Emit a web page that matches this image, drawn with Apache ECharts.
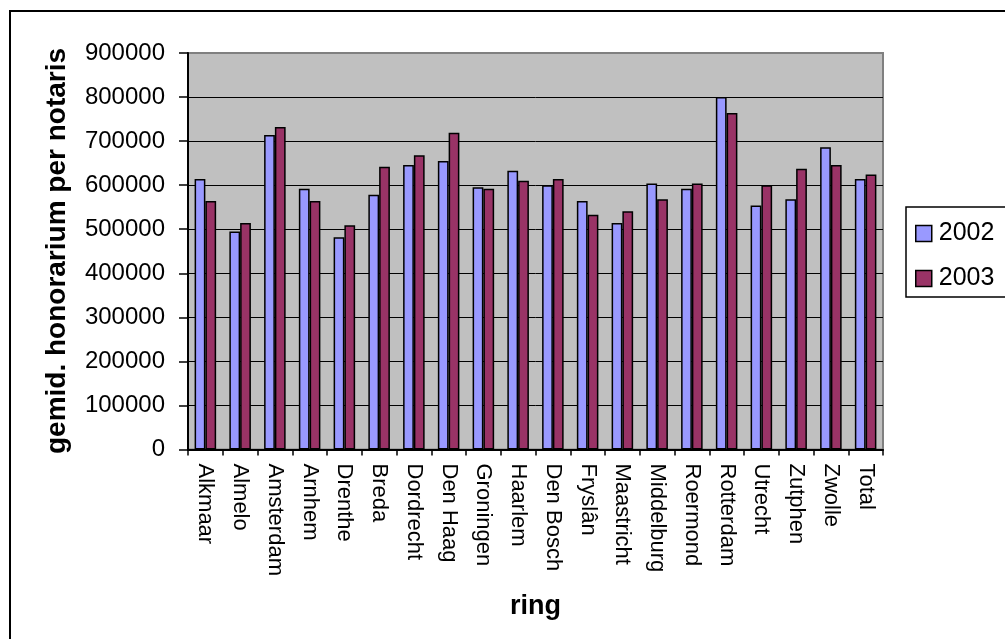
<!DOCTYPE html>
<html>
<head>
<meta charset="utf-8">
<script src="https://cdn.jsdelivr.net/npm/echarts@6/dist/echarts.min.js"></script>
<style>
  html, body { margin: 0; padding: 0; background: #fff; }
  #chart { width: 1005px; height: 639px; }
</style>
</head>
<body>
<div id="chart"></div>
<script>
// Average notary fee per notary, per district ("ring"), 2002 vs 2003
const categories = ['Alkmaar', 'Almelo', 'Amsterdam', 'Arnhem', 'Drenthe', 'Breda', 'Dordrecht',
  'Den Haag', 'Groningen', 'Haarlem', 'Den Bosch', 'Fryslân', 'Maastricht', 'Middelburg',
  'Roermond', 'Rotterdam', 'Utrecht', 'Zutphen', 'Zwolle', 'Total'];
const values2002 = [614000, 495000, 714000, 592000, 482000, 578000, 646000, 655000, 595000, 633000,
  600000, 564000, 514000, 604000, 592000, 800000, 554000, 568000, 686000, 614000];
const values2003 = [564000, 514000, 732000, 564000, 509000, 642000, 668000, 719000, 592000, 610000,
  614000, 533000, 541000, 568000, 604000, 764000, 600000, 637000, 646000, 624000];
const seriesNames = ['2002', '2003'];
const yTitle = 'gemid. honorarium per notaris';
const xTitle = 'ring';
const yMin = 0, yMax = 900000, yStep = 100000;

const FONT = "'Liberation Sans', Arial, sans-serif";
const chart = echarts.init(document.getElementById('chart'), null, { renderer: 'canvas' });

chart.setOption({
  backgroundColor: '#ffffff',
  animation: false,
  textStyle: { fontFamily: FONT, color: '#000' },
  graphic: [{
    type: 'rect',
    shape: { x: 10, y: 11, width: 1010, height: 650 },
    style: { fill: 'none', stroke: '#000', lineWidth: 2 },
    silent: true,
    z: -1
  }, {
    // vertical value-axis title
    type: 'text',
    x: 57, y: 251,
    rotation: Math.PI / 2,
    style: {
      text: yTitle,
      font: "bold 28px 'Liberation Sans', Arial, sans-serif",
      fill: '#000',
      align: 'center',
      verticalAlign: 'middle'
    },
    silent: true
  }],
  grid: {
    left: 188, right: 122, top: 53, bottom: 189.5,
    show: true,
    backgroundColor: '#C0C0C0',
    borderColor: '#808080',
    borderWidth: 2
  },
  legend: {
    orient: 'vertical',
    left: 906, top: 207,
    padding: [14, 30, 6, 9],
    itemGap: 20,
    itemWidth: 16, itemHeight: 16,
    borderColor: '#000', borderWidth: 1.5,
    textStyle: { fontFamily: FONT, fontSize: 25, color: '#000', padding: [0, 0, 0, 2] },
    data: seriesNames.map(n => ({ name: n, icon: 'rect' })),
    itemStyle: { borderColor: '#000', borderWidth: 1.5 }
  },
  xAxis: {
    type: 'category',
    data: categories,
    name: xTitle,
    nameLocation: 'middle',
    nameGap: 144,
    nameMoveOverlap: false,
    nameTextStyle: { fontFamily: FONT, fontSize: 27, fontWeight: 'bold', color: '#000' },
    axisLine: { show: true, lineStyle: { color: '#000', width: 2 } },
    axisTick: { show: true, length: 6, lineStyle: { color: '#000', width: 1.5 } },
    axisLabel: {
      rotate: -90, margin: 14, interval: 0,
      fontFamily: FONT, fontSize: 22, color: '#000'
    },
    splitLine: { show: false }
  },
  yAxis: {
    type: 'value',
    min: yMin, max: yMax, interval: yStep,
    axisLine: { show: true, lineStyle: { color: '#000', width: 2 } },
    axisTick: { show: true, length: 9, lineStyle: { color: '#000', width: 1.5 } },
    axisLabel: {
      margin: 23, fontFamily: FONT, fontSize: 24, color: '#000',
      formatter: v => String(v)
    },
    splitLine: { show: true, showMaxLine: false, lineStyle: { color: '#000', width: 1 } }
  },
  series: [{
    name: seriesNames[0],
    type: 'bar',
    data: values2002,
    barGap: '0%',
    barCategoryGap: '38%',
    itemStyle: { color: '#9999FF', borderColor: '#000', borderWidth: 1.5 }
  }, {
    name: seriesNames[1],
    type: 'bar',
    data: values2003,
    barGap: '0%',
    barCategoryGap: '38%',
    itemStyle: { color: '#993366', borderColor: '#000', borderWidth: 1.5 }
  }]
});
</script>
</body>
</html>
